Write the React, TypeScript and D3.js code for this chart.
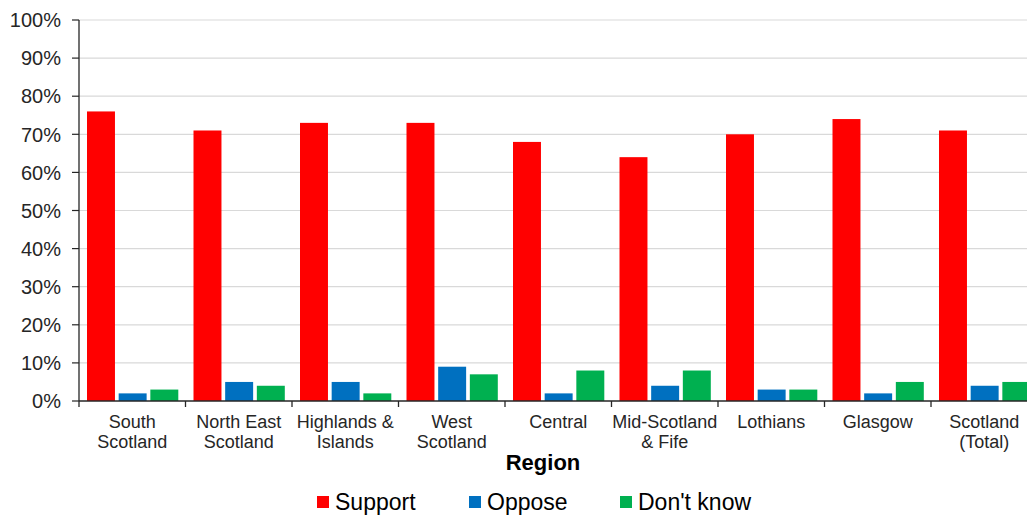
import React from "react";
import * as d3 from "d3";

const categories = [
  ["South", "Scotland"],
  ["North East", "Scotland"],
  ["Highlands &", "Islands"],
  ["West", "Scotland"],
  ["Central"],
  ["Mid-Scotland", "& Fife"],
  ["Lothians"],
  ["Glasgow"],
  ["Scotland", "(Total)"],
];
const support = [76, 71, 73, 73, 68, 64, 70, 74, 71];
const oppose = [2, 5, 5, 9, 2, 4, 3, 2, 4];
const dontKnow = [3, 4, 2, 7, 8, 8, 3, 5, 5];
const seriesNames = ["Support", "Oppose", "Don't know"];
const seriesColors = ["#FF0000", "#0070C0", "#00B050"];
const yTicks = [0, 10, 20, 30, 40, 50, 60, 70, 80, 90, 100];

const W = 1027;
const H = 516;
const FONT = "'Liberation Sans', Arial, sans-serif";

export default function App() {
  const left = 79;
  const top = 20;
  const bottom = 401;
  const band = 106.5;
  const keys = categories.map((c) => c.join(" "));
  const x = d3.scaleBand<string>().domain(keys).range([left, left + band * keys.length]).padding(0);
  const y = d3.scaleLinear().domain([0, 100]).range([bottom, top]);
  const inner = d3.scaleBand<string>().domain(seriesNames).range([8, 99.3]).paddingInner(0.117).paddingOuter(0);
  const values = [support, oppose, dontKnow];

  const legendX = [317, 469, 620];

  return (
    <svg width={W} height={H} style={{ position: "fixed", left: 0, top: 0, background: "#fff" }} fontFamily={FONT}>
      {yTicks.map((t) => (
        <g key={t}>
          {t > 0 && <line x1={left} x2={W} y1={y(t)} y2={y(t)} stroke="#d9d9d9" strokeWidth={1.2} />}
          <line x1={left - 7} x2={left} y1={y(t)} y2={y(t)} stroke="#262626" strokeWidth={1.2} />
          <text x={61} y={y(t)} dy="0.36em" textAnchor="end" fontSize={20} fill="#262626">
            {t}%
          </text>
        </g>
      ))}
      {values.map((vals, si) =>
        vals.map((v, i) => (
          <rect
            key={`${si}-${i}`}
            x={(x(keys[i]) as number) + (inner(seriesNames[si]) as number)}
            y={y(v)}
            width={inner.bandwidth()}
            height={y(0) - y(v)}
            fill={seriesColors[si]}
          />
        ))
      )}
      <line x1={left} x2={left} y1={top} y2={bottom + 6} stroke="#262626" strokeWidth={1.3} />
      <line x1={left} x2={W} y1={bottom} y2={bottom} stroke="#262626" strokeWidth={1.3} />
      {keys.map((k) => (
        <line
          key={k}
          x1={(x(k) as number) + band}
          x2={(x(k) as number) + band}
          y1={bottom}
          y2={bottom + 6}
          stroke="#262626"
          strokeWidth={1.3}
        />
      ))}
      {categories.map((lines, i) => (
        <text
          key={i}
          x={(x(keys[i]) as number) + band / 2}
          y={428}
          textAnchor="middle"
          fontSize={18}
          fill="#262626"
        >
          {lines.map((l, j) => (
            <tspan key={j} x={(x(keys[i]) as number) + band / 2} dy={j === 0 ? 0 : 20}>
              {l}
            </tspan>
          ))}
        </text>
      ))}
      <text x={543} y={470} textAnchor="middle" fontSize={22} fontWeight="bold" fill="#000">
        Region
      </text>
      {seriesNames.map((n, i) => (
        <g key={n}>
          <rect x={legendX[i]} y={496} width={12} height={12} fill={seriesColors[i]} />
          <text x={legendX[i] + 18} y={502} dy="0.36em" fontSize={23} fill="#000">
            {n}
          </text>
        </g>
      ))}
    </svg>
  );
}
